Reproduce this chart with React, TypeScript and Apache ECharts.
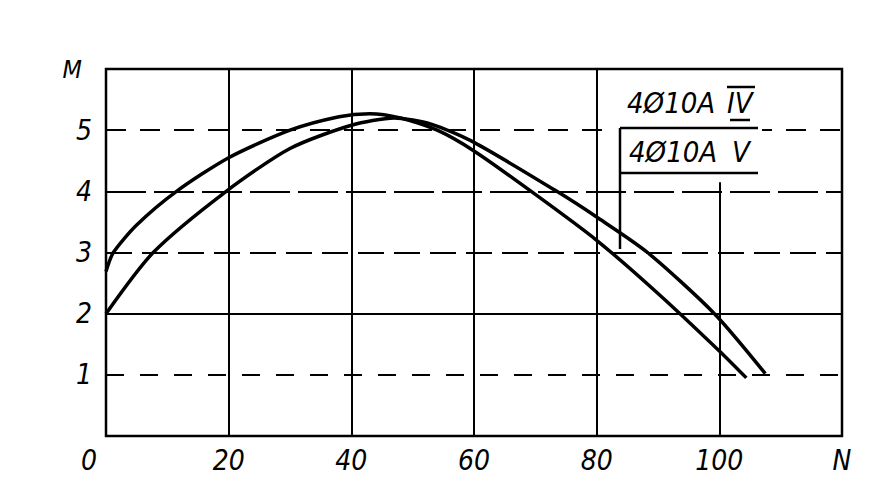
import React, { useEffect, useRef } from "react";
import * as echarts from "echarts";

// Curve "4Ø10A IV" (starts at 2.7 on the left, lower branch on the right)
const curveIVx = [0, 1.2, 5, 11.5, 20, 30, 38, 43, 48, 54, 60, 70, 80, 90, 100, 104.4];
const curveIVy = [2.69, 3.0, 3.45, 4.0, 4.55, 5.0, 5.22, 5.27, 5.2, 5.0, 4.66, 3.95, 3.2, 2.33, 1.39, 0.95];
// Curve "4Ø10A V" (starts at 2 on the left, upper branch on the right)
const curveVx = [0, 7.7, 19.6, 30, 40, 47, 53, 60, 73.5, 80, 88.3, 99.2, 107.5];
const curveVy = [2.0, 3.0, 4.0, 4.7, 5.08, 5.2, 5.1, 4.8, 4.0, 3.58, 3.0, 2.0, 1.02];

const xTicks = [0, 20, 40, 60, 80, 100];
const yTicks = [1, 2, 3, 4, 5];
const xName = "N";
const yName = "M";
const legendMain = ["4Ø10A", "4Ø10A"];
const legendNum = ["IV", "V"];

const FONT = "'DejaVu Sans Condensed', 'DejaVu Sans', sans-serif";

export default function App() {
  const ref = useRef<HTMLDivElement>(null);
  useEffect(() => {
    document.body.style.margin = "0";
    const chart = echarts.init(ref.current!, undefined, { renderer: "svg" });
    const solid = { type: "solid", color: "#000", width: 2 };
    const dash = (a: number, b: number) => ({ type: [a, b], color: "#000", width: 2 });
    const hLines = [
      { yAxis: yTicks[0], lineStyle: dash(18, 16) },
      { yAxis: yTicks[1], lineStyle: solid },
      { yAxis: yTicks[2], lineStyle: dash(26, 10) },
      { yAxis: yTicks[3], lineStyle: dash(40, 8) },
      { yAxis: yTicks[4], lineStyle: dash(20, 14) },
    ];
    const vLines = [
      [{ coord: [xTicks[1], 0], lineStyle: solid }, { coord: [xTicks[1], 6] }],
      [{ coord: [xTicks[2], 0], lineStyle: solid }, { coord: [xTicks[2], 6] }],
      [{ coord: [xTicks[3], 0], lineStyle: solid }, { coord: [xTicks[3], 6] }],
      [{ coord: [xTicks[4], 0], lineStyle: solid }, { coord: [xTicks[4], 6] }],
      [{ coord: [xTicks[5], 0], lineStyle: solid }, { coord: [xTicks[5], 4.15] }],
    ];
    const labelFont = {
      color: "#000",
      fontFamily: FONT,
      fontStyle: "italic",
      fontSize: 28,
    };
    const legendText = (x: number, y: number, text: string) => ({
      type: "text",
      x,
      y,
      z: 11,
      style: {
        text,
        fontFamily: FONT,
        fontStyle: "italic",
        fontSize: 29,
        fill: "#000",
        textVerticalAlign: "middle",
      },
    });
    const seg = (x1: number, y1: number, x2: number, y2: number) => ({
      type: "line",
      z: 11,
      shape: { x1, y1, x2, y2 },
      style: { stroke: "#000", lineWidth: 2.5 },
    });
    const option: any = {
      animation: false,
      backgroundColor: "#fff",
      grid: {
        left: 106,
        right: 47,
        top: 69,
        bottom: 62,
        show: true,
        borderColor: "#000",
        borderWidth: 2.5,
      },
      xAxis: {
        type: "value",
        min: 0,
        max: 120,
        interval: 20,
        axisLine: { show: false },
        axisTick: { show: false },
        splitLine: { show: false },
        axisLabel: {
          margin: 10,
          ...labelFont,
          formatter: (v: number) =>
            v === 0 ? "{z|0}" : v === 120 ? xName : xTicks.includes(v) ? String(v) : "",
          rich: { z: { ...labelFont, padding: [0, 34, 0, 0] } },
        },
      },
      yAxis: {
        type: "value",
        min: 0,
        max: 6,
        interval: 1,
        axisLine: { show: false },
        axisTick: { show: false },
        splitLine: { show: false },
        axisLabel: {
          margin: 14,
          ...labelFont,
          formatter: (v: number) =>
            v === 6 ? "{m|" + yName + "}" : yTicks.includes(v) ? String(v) : "",
          rich: { m: { ...labelFont, fontSize: 25, padding: [0, 10, 0, 0] } },
        },
      },
      series: [
        {
          type: "line",
          name: "grid",
          data: [],
          silent: true,
          markLine: {
            silent: true,
            symbol: "none",
            label: { show: false },
            data: [...hLines, ...vLines],
          },
        },
        {
          type: "line",
          name: legendMain[0] + " " + legendNum[0],
          data: curveIVx.map((x, i) => [x, curveIVy[i]]),
          smooth: 0.25,
          showSymbol: false,
          lineStyle: { color: "#000", width: 3.5 },
          z: 5,
        },
        {
          type: "line",
          name: legendMain[1] + " " + legendNum[1],
          data: curveVx.map((x, i) => [x, curveVy[i]]),
          smooth: 0.25,
          showSymbol: false,
          lineStyle: { color: "#000", width: 3.5 },
          z: 5,
        },
      ],
      graphic: [
        {
          type: "rect",
          shape: { x: 612, y: 78, width: 150, height: 100 },
          style: { fill: "#fff" },
          z: 10,
        },
        legendText(627, 103, legendMain[0]),
        legendText(727, 103, legendNum[0]),
        legendText(629, 152, legendMain[1]),
        legendText(732, 152, legendNum[1]),
        seg(727, 87, 755, 87),
        seg(730, 120, 750, 120),
        seg(620, 128, 758, 128),
        seg(620, 173, 758, 173),
        seg(620, 128, 620, 249),
      ],
    };
    chart.setOption(option);
    return () => chart.dispose();
  }, []);
  return <div ref={ref} style={{ width: 889, height: 498 }} />;
}
